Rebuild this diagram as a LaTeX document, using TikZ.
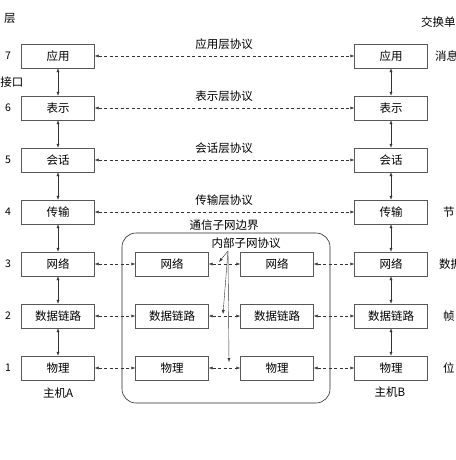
\documentclass[tikz,border=0pt]{standalone}
\usepackage{fontspec}
\setmainfont{Noto Sans CJK SC}
\usetikzlibrary{positioning, arrows.meta}

\tikzset{
  layerbox/.style={draw=black!65, minimum width=73pt, minimum height=24pt, inner sep=0pt, font=\fontsize{11.5}{12}\selectfont},
  lbl/.style={inner sep=0pt, font=\fontsize{11.5}{12}\selectfont},
  num/.style={inner sep=0pt, font=\fontsize{10.5}{11}\selectfont},
  updown/.style={{Latex[length=4pt,width=3pt]}-{Latex[length=4pt,width=3pt]}, black!80},
  peer/.style={updown, dash pattern=on 3pt off 2.5pt},
  pointer/.style={-{Latex[length=4pt,width=3pt]}, black!80}
}

\begin{document}
\begin{tikzpicture}[x=1pt, y=-1pt]
	\useasboundingbox (0,0) rectangle (455,460);
	\clip (0,0) rectangle (455,460);
	
	% Layer boxes of both hosts
	\foreach \n/\y/\t in {7/56/应用, 6/108/表示, 5/160/会话, 4/212/传输, 3/264/网络, 2/316/数据链路, 1/368/物理} {
		\node[layerbox] (A\n) at (58,\y) {\t};
		\node[layerbox] (B\n) at (391,\y) {\t};
		\node[num] (N\n) at (8,\y) {\n};
	}
	
	% Interfaces
	\foreach \a/\b in {7/6, 6/5, 5/4, 4/3, 3/2, 2/1} {
		\draw[updown] (A\a) -- (A\b);
		\draw[updown] (B\a) -- (B\b);
	}
	
	% Peer protocols
	\draw[peer] (A7) -- (B7);
	\draw[peer] (A6) -- (B6);
	\draw[peer] (A5) -- (B5);
	\draw[peer] (A4) -- (B4);
	\node[lbl] (P7) at (224,44) {应用层协议};
	\node[lbl] (P6) at (224,96) {表示层协议};
	\node[lbl] (P5) at (224,148) {会话层协议};
	\node[lbl] (P4) at (224,200) {传输层协议};
	
	% Communication subnet
	\draw[black!85, semithick, rounded corners=14pt] (122,233) rectangle (330,403);
	\node[lbl] (edge) at (224,225) {通信子网边界};
	\foreach \n/\y/\t in {3/264/网络, 2/316/数据链路, 1/368/物理} {
		\node[layerbox] (L\n) at (172,\y) {\t};
		\node[layerbox] (R\n) at (277,\y) {\t};
		\draw[peer] (A\n) -- (L\n);
		\draw[peer] (L\n) -- (R\n);
		\draw[peer] (R\n) -- (B\n);
	}
	
	% Inner subnet protocol
	\node[lbl] (inner) at (246,243) {内部子网协议};
	\coordinate (src) at (228,251);
	\coordinate (T3) at (219,262);
	\coordinate (T2) at (223,314);
	\coordinate (T1) at (229,362);
	\draw[pointer] (src) -- (T3);
	\draw[pointer] (src) -- (T2);
	\draw[pointer] (src) -- (T1);
	
	% Side labels
	\node[lbl] (layer) at (10,18) {层};
	\node[lbl] (iface) at (12,82) {接口};
	\node[lbl] (hostA) at (58,393) {主机A};
	\node[lbl] (hostB) at (390,392) {主机B};
	\node[lbl, anchor=west] (unit) at (421,22) {交换单};
	\node[lbl, anchor=west] (U7) at (435,56) {消息};
	\node[lbl, anchor=west] (U4) at (443,212) {节};
	\node[lbl, anchor=west] (U3) at (439,264) {数据};
	\node[lbl, anchor=west] (U2) at (443,316) {帧};
	\node[lbl, anchor=west] (U1) at (443,368) {位};
\end{tikzpicture}
\end{document}
